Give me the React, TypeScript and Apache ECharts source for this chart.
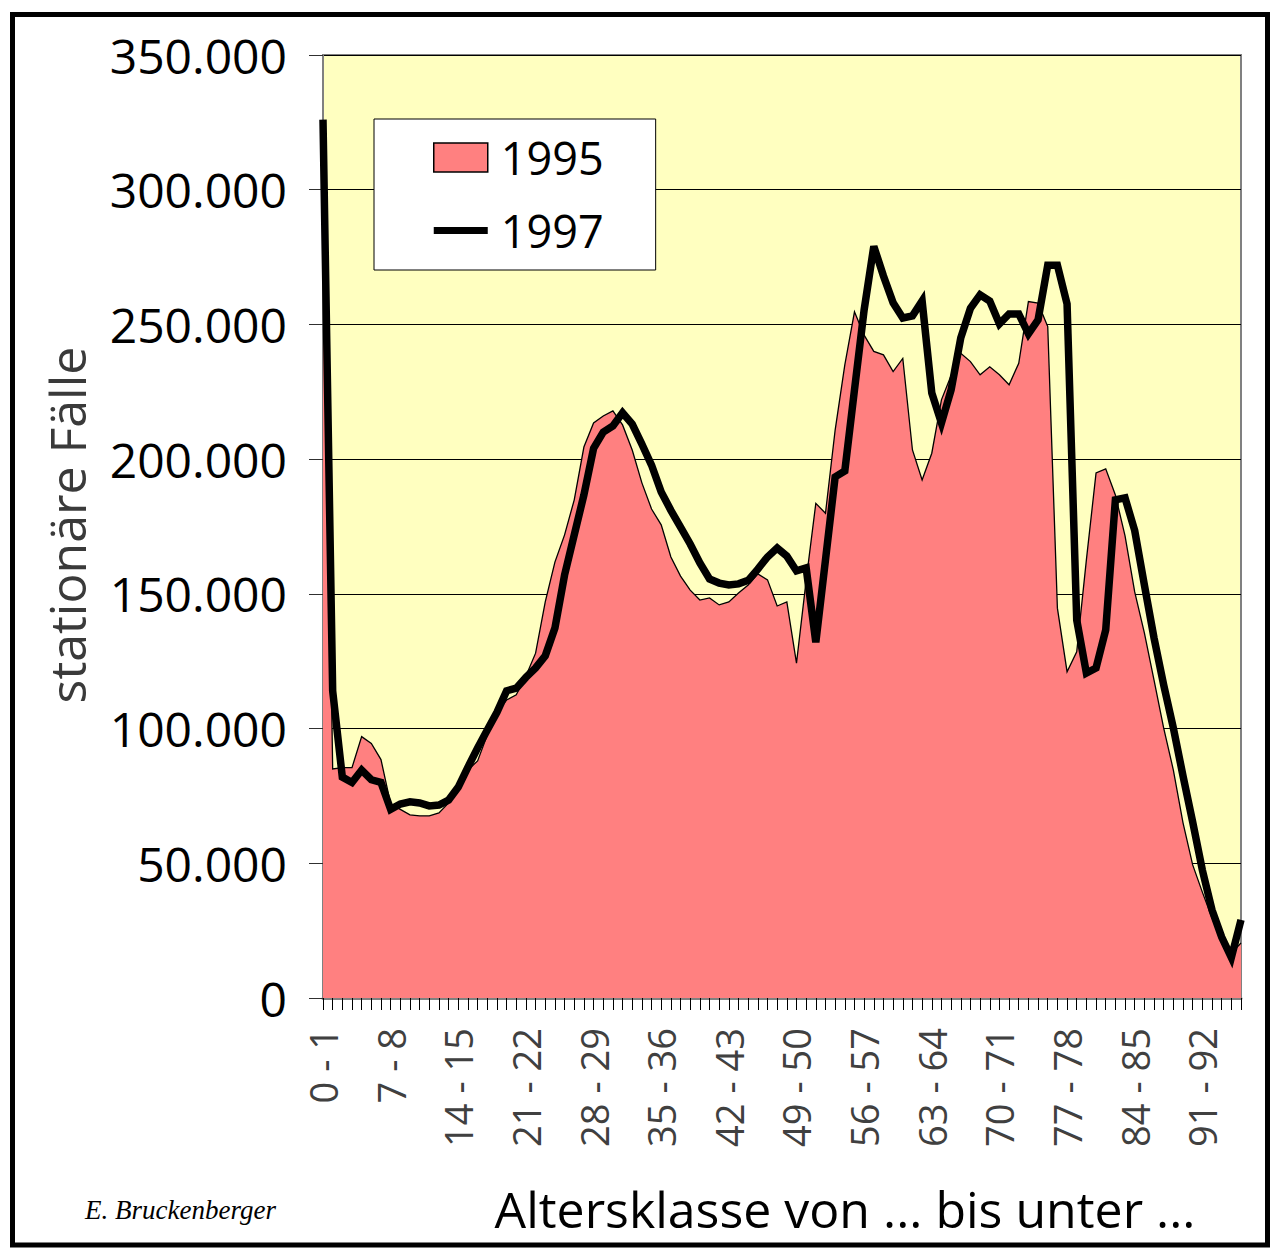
import React, { useEffect, useRef } from "react";
import * as echarts from "echarts";

// Altersklassen "0 - 1" ... "95 - 96"
const AGE_CLASSES: string[] = Array.from({ length: 96 }, (_, i) => `${i} - ${i + 1}`);

// stationäre Fälle 1995 (Fläche)
const CASES_1995: number[] = [
  320000, 85000, 85500, 85500, 97000, 94500, 88500, 72000, 70000, 68000,
  67600, 67600, 68700, 72400, 78000, 84600, 88000, 97600, 106000, 110600,
  112500, 119500, 128000, 147000, 161800, 171900, 184900, 204500, 213400, 216000,
  217900, 212700, 203400, 191200, 181500, 175600, 163700, 156600, 151400, 147700,
  148500, 145900, 147000, 150300, 153300, 157400, 155200, 145500, 147000, 124300,
  155000, 183600, 179900, 210800, 235000, 254700, 246000, 240000, 238700, 232500,
  237400, 203400, 192300, 202200, 222000, 231000, 239300, 236200, 231300, 234300,
  231300, 227600, 235600, 258500, 257900, 249200, 144700, 121100, 128500, 162600,
  194900, 196400, 186700, 171500, 150700, 135500, 118000, 100200, 84600, 65000,
  49400, 39300, 29700, 21500, 16700, 20400,
];

// stationäre Fälle 1997 (Linie)
const CASES_1997: number[] = [
  326000, 114000, 82000, 80000, 84600, 81000, 80000, 70000, 72000, 72800,
  72400, 71300, 71600, 73500, 78300, 85700, 92800, 99500, 106000, 114000,
  115000, 119000, 122500, 127000, 137300, 157000, 171900, 186700, 204000, 210000,
  212300, 217200, 213000, 205600, 197800, 187800, 181000, 174800, 168500, 161500,
  155500, 154000, 153300, 153700, 155000, 159200, 163700, 167000, 164000, 158500,
  159600, 132000, 162600, 193400, 195600, 225700, 255400, 279000, 268000, 258000,
  252400, 253200, 258700, 224600, 213400, 225700, 245000, 256000, 261000, 258700,
  250200, 253900, 253900, 246500, 251700, 272000, 272000, 257600, 140300, 120600,
  122500, 136600, 184900, 185600, 173500, 153300, 133600, 116200, 100200, 82400,
  65300, 47500, 32700, 22600, 15000, 29000,
];

const SERIES_NAMES = ["1995", "1997"];
const Y_MIN = 0;
const Y_MAX = 350000;
const Y_STEP = 50000;

const Y_TITLE = "stationäre Fälle";
const X_TITLE = "Altersklasse von ... bis unter ...";
const AUTHOR = "E. Bruckenberger";

const FONT = "'Open Sans', 'Noto Sans', sans-serif";

function formatThousands(v: number): string {
  return String(Math.round(v)).replace(/\B(?=(\d{3})+(?!\d))/g, ".");
}

export default function App() {
  const ref = useRef<HTMLDivElement | null>(null);

  useEffect(() => {
    if (!ref.current) return;
    const chart = echarts.init(ref.current, undefined, { renderer: "svg" });

    const option: any = {
      animation: false,
      backgroundColor: "#ffffff",
      grid: {
        left: 323,
        right: 32,
        top: 55,
        bottom: 250,
        show: true,
        backgroundColor: "#FFFFC0",
        borderColor: "#808080",
        borderWidth: 2,
      },
      legend: {
        orient: "vertical",
        left: 374,
        top: 119,
        padding: [16, 52, 17, 59],
        itemGap: 28,
        itemWidth: 54,
        itemHeight: 29,
        backgroundColor: "#ffffff",
        borderColor: "#000000",
        borderWidth: 1,
        selectedMode: false,
        textStyle: {
          fontFamily: FONT,
          fontSize: 45,
          color: "#000000",
          padding: [0, 0, 0, 8],
        },
        data: [
          {
            name: SERIES_NAMES[0],
            icon: "rect",
            itemStyle: { color: "#FF8080", borderColor: "#000000", borderWidth: 1.5 },
          },
          {
            name: SERIES_NAMES[1],
            icon: "path://M0,0H60V8H0Z",
            itemStyle: { color: "#000000", borderWidth: 0 },
          },
        ],
      },
      xAxis: {
        type: "category",
        data: AGE_CLASSES,
        boundaryGap: false,
        axisLine: { show: true, lineStyle: { color: "#808080", width: 3 } },
        axisTick: {
          show: true,
          interval: 0,
          length: 12,
          inside: false,
          lineStyle: { color: "#000000", width: 1 },
        },
        axisLabel: {
          interval: 6,
          rotate: 90,
          margin: 30,
          fontFamily: FONT,
          fontSize: 38,
          color: "#404040",
        },
        splitLine: { show: false },
      },
      yAxis: {
        type: "value",
        min: Y_MIN,
        max: Y_MAX,
        interval: Y_STEP,
        axisLine: { show: true, lineStyle: { color: "#808080", width: 2 } },
        axisTick: { show: true, length: 14, lineStyle: { color: "#303030", width: 1 } },
        axisLabel: {
          margin: 36,
          fontFamily: FONT,
          fontSize: 48,
          color: "#000000",
          formatter: (v: number) => formatThousands(v),
        },
        splitLine: { show: true, lineStyle: { color: "#000000", width: 1 } },
      },
      series: [
        {
          name: SERIES_NAMES[0],
          type: "line",
          data: CASES_1995,
          symbol: "none",
          z: 2,
          lineStyle: { color: "#000000", width: 1.3, join: "miter" },
          itemStyle: { color: "#FF8080" },
          areaStyle: { color: "#FF8080", opacity: 1 },
        },
        {
          name: SERIES_NAMES[1],
          type: "line",
          data: CASES_1997,
          symbol: "none",
          z: 3,
          lineStyle: { color: "#000000", width: 7.5, join: "miter", miterLimit: 4 },
          itemStyle: { color: "#000000" },
        },
      ],
      graphic: [
        {
          type: "rect",
          z: 100,
          silent: true,
          shape: { x: 12.5, y: 14.5, width: 1255, height: 1230.5 },
          style: { fill: "none", stroke: "#000000", lineWidth: 5 },
        },
        {
          type: "text",
          x: 67,
          y: 525,
          rotation: Math.PI / 2,
          style: {
            text: Y_TITLE,
            font: `50px ${FONT}`,
            fill: "#3a3a3a",
            textAlign: "center",
            textVerticalAlign: "middle",
          },
        },
        {
          type: "text",
          x: 845,
          y: 1209,
          style: {
            text: X_TITLE,
            font: `50px ${FONT}`,
            fill: "#000000",
            textAlign: "center",
            textVerticalAlign: "middle",
          },
        },
        {
          type: "text",
          x: 85,
          y: 1210,
          style: {
            text: AUTHOR,
            font: `italic 27px 'Liberation Serif', 'DejaVu Serif', serif`,
            fill: "#000000",
            textAlign: "left",
            textVerticalAlign: "middle",
          },
        },
      ],
    };

    chart.setOption(option);
    return () => {
      chart.dispose();
    };
  }, []);

  return (
    <div
      ref={ref}
      style={{ position: "absolute", left: 0, top: 0, width: 1273, height: 1248, background: "#fff" }}
    />
  );
}
